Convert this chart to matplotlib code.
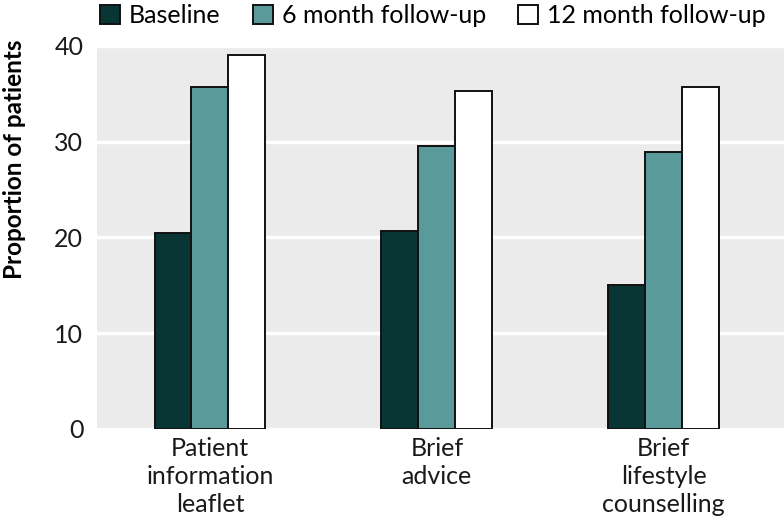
import numpy as np
import matplotlib.pyplot as plt

plt.rcParams['font.family'] = ['Lato', 'DejaVu Sans']

groups = ['Patient\ninformation\nleaflet', 'Brief\nadvice', 'Brief\nlifestyle\ncounselling']
series = ['Baseline', '6 month follow-up', '12 month follow-up']
baseline = [20.4, 20.7, 15.0]
month6 = [35.7, 29.5, 28.9]
month12 = [39.0, 35.3, 35.7]
colors = ['#093535', '#5a9a9a', '#ffffff']

fig = plt.figure(figsize=(7.84, 5.21), dpi=100)
ax = fig.add_axes([0.124, 0.177, 0.876, 0.735])
ax.set_facecolor('#ebebeb')

x = np.arange(len(groups))
w = 0.163
for i, (vals, name) in enumerate(zip([baseline, month6, month12], series)):
    ax.bar(x + (i - 1) * w, vals, w, color=colors[i], edgecolor='#111111',
           linewidth=1.4, label=name, zorder=3)

ax.set_xlim(-0.497, 2.53)
ax.set_ylim(0, 40)
ax.set_yticks([0, 10, 20, 30, 40])
ax.grid(axis='y', color='white', linewidth=2.5, zorder=0)
ax.set_axisbelow(True)
for s in ax.spines.values():
    s.set_visible(False)
ax.tick_params(length=0, labelsize=18, colors='#1a1a1a', pad=10)
ax.set_xticks(x)
ax.set_xticklabels(groups, fontsize=18, linespacing=1.25)
ax.tick_params(axis='x', pad=6)
ax.set_ylabel('Proportion of patients', fontsize=17.5, fontweight='bold')
ax.yaxis.set_label_coords(-0.103, 0.705)

fig.legend(loc='upper center', bbox_to_anchor=(0.552, 1.035), ncol=3, frameon=False,
           fontsize=18, handlelength=0.8, handleheight=0.8, handletextpad=0.35,
           columnspacing=1.3)

fig.savefig('out.png', dpi=100)
